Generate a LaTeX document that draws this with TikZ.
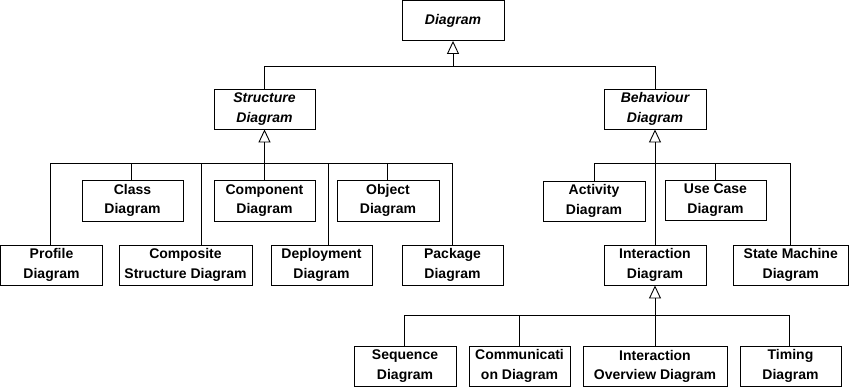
\documentclass[tikz,border=0pt]{standalone}
\usepackage{fontspec}
\setmainfont{Liberation Sans}
\usetikzlibrary{arrows.meta}
\begin{document}
\begin{tikzpicture}[x=1pt,y=-1pt,
  box/.style={draw=black, line width=0.9pt, fill=white, inner sep=0pt, align=center,
    font=\fontsize{14}{19.5}\selectfont\bfseries},
  abstract/.style={box, font=\fontsize{14}{19.5}\selectfont\bfseries\itshape},
  conn/.style={draw=black, line width=0.9pt},
  gen/.style={conn, -{Triangle[open, length=13pt, width=12pt, line width=0.9pt]}}]
\useasboundingbox (0,0) rectangle (849,387);
% abstract diagrams
\node[abstract, minimum width=102pt, minimum height=40pt] (diag) at (453,20.5) {Diagram};
\node[abstract, minimum width=101pt, minimum height=40pt] (struct) at (264.5,109) {Structure\\Diagram};
\node[abstract, minimum width=102pt, minimum height=40pt] (behav) at (655,109) {Behaviour\\Diagram};
% structure diagrams
\node[box, minimum width=101pt, minimum height=41pt] (class) at (132.5,200.5) {Class\\Diagram};
\node[box, minimum width=101pt, minimum height=41pt] (component) at (264.5,200.5) {Component\\Diagram};
\node[box, minimum width=102pt, minimum height=41pt] (object) at (388,200.5) {Object\\Diagram};
\node[box, minimum width=102pt, minimum height=40pt] (profile) at (51.5,265) {Profile\\Diagram};
\node[box, minimum width=133pt, minimum height=40pt] (composite) at (185.5,265) {Composite\\Structure Diagram};
\node[box, minimum width=101pt, minimum height=40pt] (deploy) at (321.5,265) {Deployment\\Diagram};
\node[box, minimum width=101pt, minimum height=40pt] (package) at (452.5,265) {Package\\Diagram};
% behaviour diagrams
\node[box, minimum width=102pt, minimum height=40pt] (activity) at (594,201) {Activity\\Diagram};
\node[box, minimum width=101pt, minimum height=40pt] (usecase) at (715.5,200) {Use Case\\Diagram};
\node[box, minimum width=102pt, minimum height=40pt] (interaction) at (655,265) {Interaction\\Diagram};
\node[box, minimum width=115pt, minimum height=40pt] (state) at (790.75,265) {State Machine\\Diagram};
% interaction diagrams
\node[box, minimum width=102pt, minimum height=40pt] (sequence) at (405,366) {Sequence\\Diagram};
\node[box, minimum width=101pt, minimum height=40pt] (comm) at (519.5,366) {Communicati\\on Diagram};
\node[box, minimum width=144pt, minimum height=40pt] (overview) at (655,366.5) {Interaction\\Overview Diagram};
\node[box, minimum width=101pt, minimum height=40pt] (timing) at (790.5,366) {Timing\\Diagram};
% bus points
\coordinate (topbus) at (453,66);
\coordinate (sbus) at (264.5,163);
\coordinate (bbus) at (655,163);
\coordinate (ibus) at (655,315);
% top level
\draw[gen] (topbus) -- (diag.south);
\draw[conn] (struct.north) |- (topbus);
\draw[conn] (behav.north) |- (topbus);
% structure
\draw[gen] (sbus) -- (struct.south);
\draw[conn] ([xshift=-1.5pt]profile.north) |- (sbus);
\draw[conn] ([xshift=-1.5pt]class.north) |- (sbus);
\draw[conn] ([xshift=15.5pt]composite.north) |- (sbus);
\draw[conn] (component.north) |- (sbus);
\draw[conn] ([xshift=6.5pt]deploy.north) |- (sbus);
\draw[conn] ([xshift=-1pt]object.north) |- (sbus);
\draw[conn] (package.north) |- (sbus);
% behaviour
\draw[gen] (bbus) -- (behav.south);
\draw[conn] (activity.north) |- (bbus);
\draw[conn] (interaction.north) -- (bbus);
\draw[conn] (usecase.north) |- (bbus);
\draw[conn] (state.north) |- (bbus);
% interaction
\draw[gen] (ibus) -- (interaction.south);
\draw[conn] ([xshift=-1pt]sequence.north) |- (ibus);
\draw[conn] (comm.north) |- (ibus);
\draw[conn] (overview.north) -- (ibus);
\draw[conn] ([xshift=-1.5pt]timing.north) |- (ibus);
\end{tikzpicture}
\end{document}
